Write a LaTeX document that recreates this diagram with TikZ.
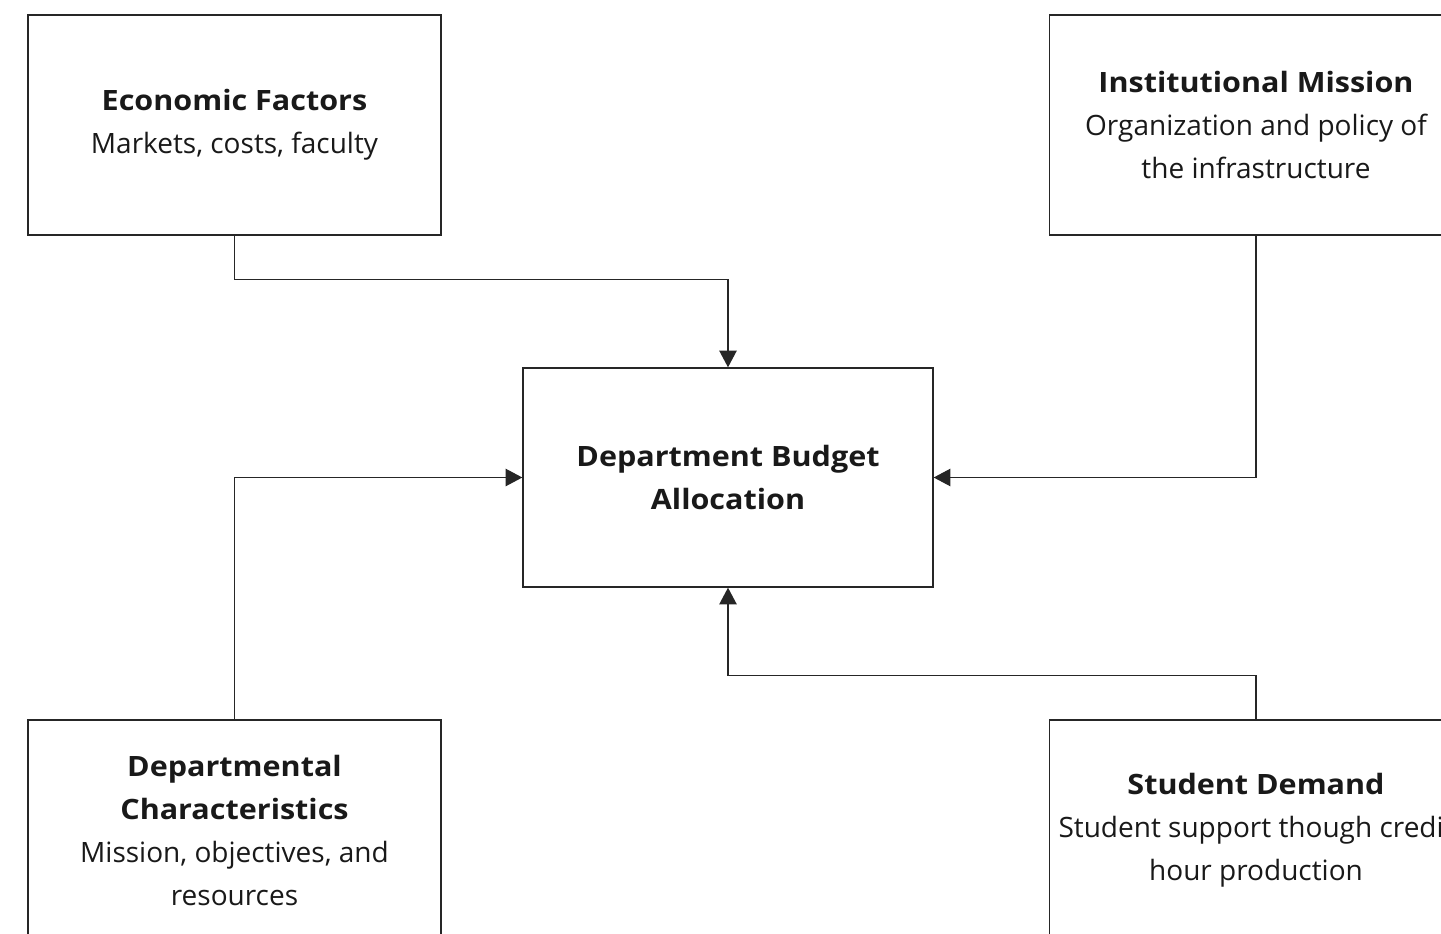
\documentclass[tikz,border=0pt]{standalone}
\usepackage{fontspec}
\setmainfont{Open Sans}[BoldFeatures={FakeStretch=1.09}]
\usepackage{tikz}
\usetikzlibrary{arrows.meta, positioning, calc}
\tikzset{
  % Box styles
  factorbox/.style={rectangle, draw=black!85, line width=1pt, fill=white, minimum width=309.75pt, minimum height=165pt, inner sep=0pt, align=center, font=\fontsize{21}{32.25}\selectfont, text=black!90},
  budgetbox/.style={factorbox, minimum width=307.5pt, minimum height=164.25pt},
  % Arrow styles
  arrow/.style={-{Triangle[length=12.5pt, width=13pt]}, line width=1pt, black!85},
}

\begin{document}
\begin{tikzpicture}[x=0.75pt, y=-0.75pt]
  \useasboundingbox (0,0) rectangle (1441,934);
  \clip (0,0) rectangle (1441,934);

  % Factor boxes
  \node[factorbox] (econ) at (234.5,125) {
    \textbf{Economic Factors}\\
    Markets, costs, faculty
  };
  \node[factorbox] (inst) at (1256,125) {
    \textbf{Institutional Mission}\\
    Organization and policy of\\the infrastructure
  };
  \node[factorbox] (dept) at (234.5,830) {
    \textbf{Departmental}\\\textbf{Characteristics}\\
    Mission, objectives, and\\resources
  };
  \node[factorbox] (student) at (1256,830) {
    \textbf{Student Demand}\\
    Student support though credit\\hour production
  };

  % Budget box
  \node[budgetbox] (budget) at (728,477.5) {
    \textbf{Department Budget}\\\textbf{Allocation}
  };

  % Connectors
  \draw[arrow] (econ.south) -- ++(0,44) -| (budget.north);
  \draw[arrow] (inst.south) |- (budget.east);
  \draw[arrow] (dept.north) |- (budget.west);
  \draw[arrow] (student.north) -- ++(0,-44) -| (budget.south);
\end{tikzpicture}
\end{document}
